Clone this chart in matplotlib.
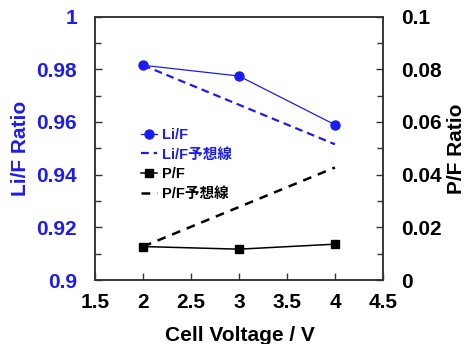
import matplotlib
matplotlib.use("Agg")
import matplotlib.pyplot as plt
from matplotlib.ticker import MultipleLocator

plt.rcParams['font.family'] = ['Liberation Sans', 'Noto Sans CJK JP', 'DejaVu Sans']
plt.rcParams['font.weight'] = 'bold'

voltage = [2, 3, 4]
li_f = [0.9815, 0.9774, 0.9589]
pred_voltage = [2, 4]
li_f_pred = [0.9815, 0.9515]
p_f = [0.0127, 0.0117, 0.0136]
p_f_pred = [0.0127, 0.0427]

xticks = [1.5, 2, 2.5, 3, 3.5, 4, 4.5]
left_ticks = [0.9, 0.92, 0.94, 0.96, 0.98, 1.0]
left_labels = ['0.9', '0.92', '0.94', '0.96', '0.98', '1']
right_ticks = [0, 0.02, 0.04, 0.06, 0.08, 0.1]
right_labels = ['0', '0.02', '0.04', '0.06', '0.08', '0.1']

BLUE = '#1c1cf0'
SPINE = '#333333'

fig = plt.figure(figsize=(4.69, 3.44), dpi=100)
ax = fig.add_axes([95/469, 1 - 280/344, 288/469, 263.5/344])
ax2 = ax.twinx()

l1, = ax.plot(voltage, li_f, color=BLUE, lw=0.9, marker='o', ms=6.5, label='Li/F')
l2, = ax.plot(pred_voltage, li_f_pred, color=BLUE, lw=1.6, ls=(0, (3.5, 2.2)), label='Li/F予想線')
l3, = ax2.plot(voltage, p_f, color='black', lw=1.1, marker='s', ms=6, label='P/F')
l4, = ax2.plot(pred_voltage, p_f_pred, color='black', lw=1.8, ls=(0, (3.5, 2.8)), label='P/F予想線')

ax.set_xlim(1.5, 4.5)
ax.set_ylim(0.9, 1.0)
ax2.set_ylim(0, 0.1)
ax.set_xticks(xticks)
ax.set_xticklabels(['1.5', '2', '2.5', '3', '3.5', '4', '4.5'])
ax.set_yticks(left_ticks)
ax.set_yticklabels(left_labels)
ax2.set_yticks(right_ticks)
ax2.set_yticklabels(right_labels)
ax.yaxis.set_minor_locator(MultipleLocator(0.01))
ax2.yaxis.set_minor_locator(MultipleLocator(0.01))

for a in (ax, ax2):
    for s in a.spines.values():
        s.set_color(SPINE)
        s.set_linewidth(1.1)

FS = 15
ax.tick_params(axis='x', direction='in', length=5, width=1, color=SPINE, labelsize=FS, pad=9, top=False)
ax.tick_params(axis='y', which='major', direction='in', length=5, width=1, color=SPINE,
               labelsize=FS, pad=13, labelcolor=BLUE, right=False)
ax.tick_params(axis='y', which='minor', direction='in', length=4, width=1, color=SPINE, right=False)
ax2.tick_params(axis='y', which='major', direction='in', length=5, width=1, color=SPINE,
                labelsize=FS, pad=13, labelcolor='black')
ax2.tick_params(axis='y', which='minor', direction='in', length=4, width=1, color=SPINE)

ax.set_xlabel('Cell Voltage / V', fontsize=FS, fontweight='bold')
ax.set_ylabel('Li/F Ratio', fontsize=FS, fontweight='bold', color=BLUE)
ax2.set_ylabel('P/F Ratio', fontsize=FS, fontweight='bold', color='black')
ax.xaxis.set_label_coords(0.502, -0.176)
ax.yaxis.set_label_coords(-0.226, 0.5)
ax2.yaxis.set_label_coords(1.222, 0.5)

leg = ax2.legend(handles=[l1, l2, l3, l4], loc='upper left', bbox_to_anchor=(0.14, 0.6),
                 frameon=False, fontsize=10.5, handlelength=1.1, handletextpad=0.3,
                 labelspacing=0.4, borderaxespad=0)
for t, c in zip(leg.get_texts(), [BLUE, BLUE, 'black', 'black']):
    t.set_color(c)
    t.set_fontweight('bold')

fig.savefig('out.png', dpi=100)
